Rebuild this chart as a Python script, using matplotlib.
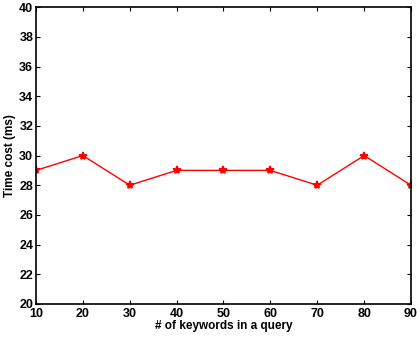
import matplotlib
matplotlib.use("Agg")
import matplotlib.pyplot as plt

plt.rcParams['font.family'] = ['Liberation Sans', 'DejaVu Sans']
plt.rcParams['font.weight'] = 'bold'

keywords = [10, 20, 30, 40, 50, 60, 70, 80, 90]
time_cost = [29, 30, 28, 29, 29, 29, 28, 30, 28]
y_ticks = [20, 22, 24, 26, 28, 30, 32, 34, 36, 38, 40]

fig = plt.figure(figsize=(4.17, 3.40), dpi=100)
ax = fig.add_axes([0.0863, 0.106, 0.8993, 0.873])

ax.plot(keywords, time_cost, color='red', linewidth=1.0, marker='*',
        markersize=6, markeredgewidth=1.2)

ax.set_xlim(10, 90)
ax.set_ylim(20, 40)
ax.set_xticks(keywords)
ax.set_yticks(y_ticks)
ax.tick_params(direction='in', top=True, right=True, labelsize=9, length=3,
               width=0.8)
ax.tick_params(axis='x', pad=3)
ax.tick_params(axis='y', pad=2)
for lbl in ax.get_xticklabels() + ax.get_yticklabels():
    lbl.set_fontweight('bold')
for sp in ax.spines.values():
    sp.set_linewidth(1.2)

ax.set_xlabel('# of keywords in a query', fontsize=8.5, fontweight='bold', labelpad=0)
ax.set_ylabel('Time cost (ms)', fontsize=8.5, fontweight='bold', labelpad=2)

fig.savefig('out.png', dpi=100)
